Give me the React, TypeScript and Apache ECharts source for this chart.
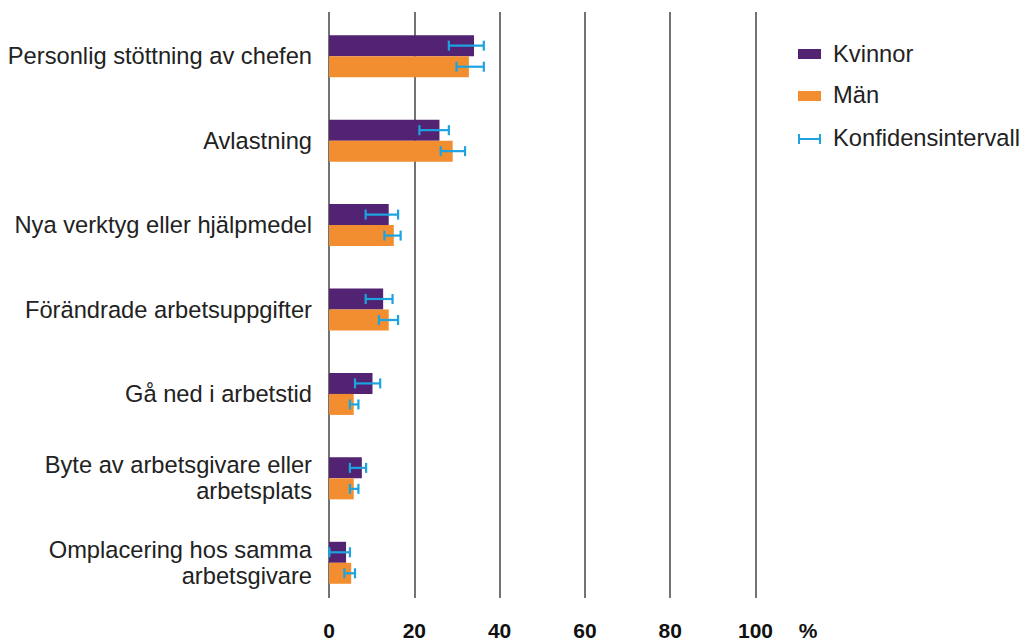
import React, { useEffect, useRef } from "react";
import * as echarts from "echarts";

const categories = [
  "Personlig stöttning av chefen",
  "Avlastning",
  "Nya verktyg eller hjälpmedel",
  "Förändrade arbetsuppgifter",
  "Gå ned i arbetstid",
  "Byte av arbetsgivare eller\narbetsplats",
  "Omplacering hos samma\narbetsgivare",
];
const kvinnor = [34.0, 25.9, 14.0, 12.7, 10.2, 7.7, 4.0];
const man = [32.8, 29.0, 15.2, 14.0, 5.8, 5.8, 5.2];
const kvinnorLow = [28.1, 21.2, 8.6, 8.6, 6.1, 4.9, 0.1];
const kvinnorHigh = [36.3, 28.1, 16.2, 14.9, 12.0, 8.7, 4.9];
const manLow = [29.9, 26.2, 13.0, 11.7, 4.9, 4.9, 3.6];
const manHigh = [36.3, 31.9, 16.8, 16.2, 6.9, 6.9, 6.1];
const xTicks = [0, 20, 40, 60, 80, 100];

const PURPLE = "#522372";
const ORANGE = "#f28e30";
const BLUE = "#1ca3e0";
const FONT = "Liberation Sans";
const FS = 23.7;

export default function App() {
  const ref = useRef<HTMLDivElement>(null);
  useEffect(() => {
    if (!ref.current) return;
    const chart = echarts.init(ref.current, null, { renderer: "svg" });
    const errData: number[][] = [];
    categories.forEach((_, i) => {
      errData.push([i, kvinnorLow[i], kvinnorHigh[i], -1]);
      errData.push([i, manLow[i], manHigh[i], 1]);
    });
    const left = 329;
    const right = 1024 - 755.5;
    chart.setOption({
      animation: false,
      grid: [
        { left, right, top: 14, height: 591 },
        { left, right, top: 12, height: 586 },
      ],
      xAxis: [
        { type: "value", gridIndex: 0, min: 0, max: 100, show: false },
        {
          type: "value",
          gridIndex: 1,
          min: 0,
          max: 100,
          interval: 20,
          axisLine: { show: false },
          axisTick: { show: false },
          splitLine: { show: true, lineStyle: { color: "#444", width: 1.5 } },
          axisLabel: {
            fontFamily: FONT,
            fontSize: 21,
            fontWeight: "bold",
            color: "#111",
            margin: 22,
            formatter: (v: number) => (xTicks.includes(v) ? String(v) : ""),
          },
        },
      ],
      yAxis: [
        {
          type: "category",
          gridIndex: 0,
          data: categories,
          inverse: true,
          axisLine: { show: false },
          axisTick: { show: false },
          splitLine: { show: false },
          axisLabel: {
            fontFamily: FONT,
            fontSize: FS,
            color: "#222",
            margin: 17,
            lineHeight: 26,
            align: "right",
          },
        },
        { type: "category", gridIndex: 1, data: categories, show: false },
      ],
      series: [
        {
          name: "Kvinnor",
          type: "bar",
          xAxisIndex: 0,
          yAxisIndex: 0,
          data: kvinnor,
          barWidth: 21,
          barGap: "0%",
          itemStyle: { color: PURPLE },
        },
        {
          name: "Män",
          type: "bar",
          xAxisIndex: 0,
          yAxisIndex: 0,
          data: man,
          barWidth: 21,
          barGap: "0%",
          itemStyle: { color: ORANGE },
        },
        {
          name: "Konfidensintervall",
          type: "custom",
          xAxisIndex: 0,
          yAxisIndex: 0,
          z: 10,
          data: errData,
          encode: { x: [1, 2], y: 0 },
          renderItem: (params: any, api: any) => {
            const cat = api.value(0);
            const p1 = api.coord([api.value(1), cat]);
            const p2 = api.coord([api.value(2), cat]);
            const y = p1[1] + api.value(3) * 10.5;
            const h = 5;
            const style = { stroke: BLUE, lineWidth: 2.2 };
            return {
              type: "group",
              children: [
                { type: "line", shape: { x1: p1[0], y1: y, x2: p2[0], y2: y }, style },
                { type: "line", shape: { x1: p1[0], y1: y - h, x2: p1[0], y2: y + h }, style },
                { type: "line", shape: { x1: p2[0], y1: y - h, x2: p2[0], y2: y + h }, style },
              ],
            };
          },
        },
      ],
      graphic: [
        {
          type: "text",
          x: 808,
          y: 630,
          style: {
            text: "%",
            fontFamily: FONT,
            fontSize: 21,
            fontWeight: "bold",
            fill: "#111",
            align: "center",
            verticalAlign: "middle",
          },
        },
        { type: "rect", shape: { x: 798, y: 49, width: 23, height: 10 }, style: { fill: PURPLE } },
        {
          type: "text",
          x: 833,
          y: 54,
          style: { text: "Kvinnor", fontFamily: FONT, fontSize: FS, fill: "#222", verticalAlign: "middle" },
        },
        { type: "rect", shape: { x: 798, y: 91, width: 23, height: 10 }, style: { fill: ORANGE } },
        {
          type: "text",
          x: 833,
          y: 95,
          style: { text: "Män", fontFamily: FONT, fontSize: FS, fill: "#222", verticalAlign: "middle" },
        },
        { type: "line", shape: { x1: 799, y1: 139, x2: 820, y2: 139 }, style: { stroke: BLUE, lineWidth: 2 } },
        { type: "line", shape: { x1: 799, y1: 134, x2: 799, y2: 144 }, style: { stroke: BLUE, lineWidth: 2 } },
        { type: "line", shape: { x1: 820, y1: 134, x2: 820, y2: 144 }, style: { stroke: BLUE, lineWidth: 2 } },
        {
          type: "text",
          x: 833,
          y: 138,
          style: {
            text: "Konfidensintervall",
            fontFamily: FONT,
            fontSize: FS,
            fill: "#222",
            verticalAlign: "middle",
          },
        },
      ],
    });
    return () => chart.dispose();
  }, []);
  return <div ref={ref} style={{ width: 1024, height: 641, position: "absolute", left: 0, top: 0 }} />;
}
